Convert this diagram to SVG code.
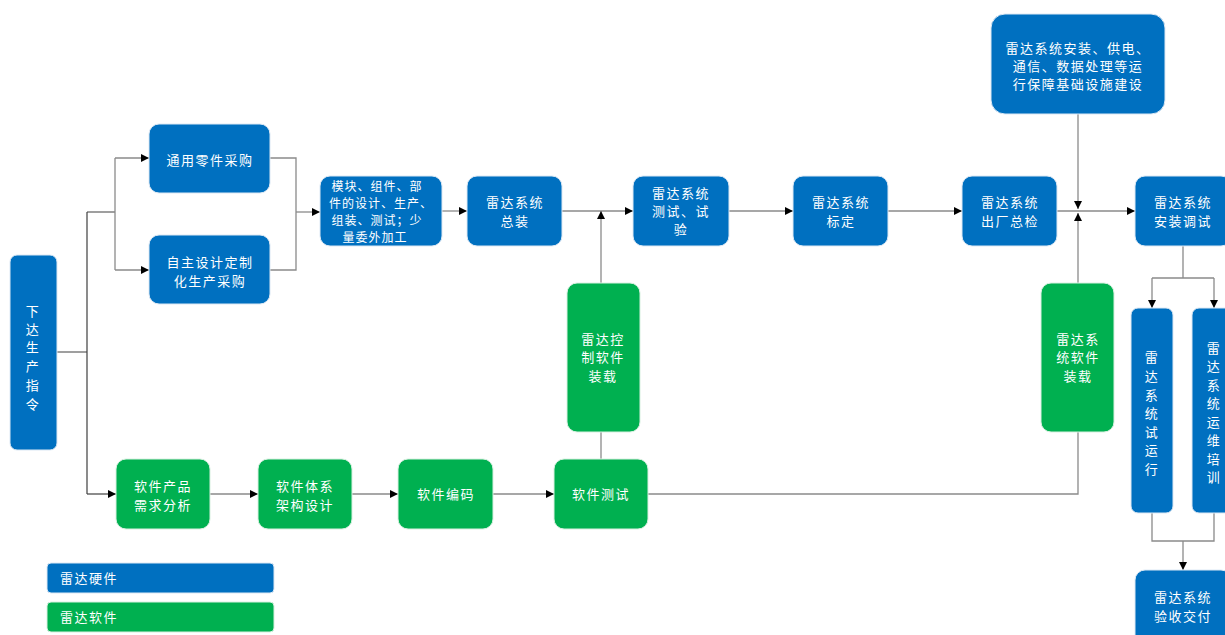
<svg xmlns="http://www.w3.org/2000/svg" width="1225" height="635" viewBox="0 0 1225 635">
<style>
.b{fill:#0070C0;stroke:#dce8f4;stroke-width:1}
.g{fill:#00B050;stroke:#d8f0e0;stroke-width:1}
text{font-family:"Noto Sans CJK SC","Noto Sans",sans-serif;font-size:13px;fill:#fff;text-anchor:middle;letter-spacing:1.5px}
.l{text-anchor:start}
.c{fill:none;stroke:#8a8a8a;stroke-width:1.3}
.d{fill:none;stroke:#404040;stroke-width:1.2}
</style>
<defs>
<marker id="a" viewBox="0 0 10 10" refX="10" refY="5" markerWidth="8" markerHeight="8" markerUnits="userSpaceOnUse" orient="auto"><path d="M0,0 L10,5 L0,10 z" fill="#000"/></marker>
</defs>
<g id="connectors">
<path class="d" d="M57,352 H87 M87,212 V494 M87,212 H115"/>
<path class="c" d="M115,158 V270"/>
<path class="c" d="M115,158 H149" marker-end="url(#a)"/>
<path class="c" d="M115,270 H149" marker-end="url(#a)"/>
<path class="c" d="M270,158 H296 V270 H270"/>
<path class="c" d="M296,212 H320" marker-end="url(#a)"/>
<path class="c" d="M442,211 H467" marker-end="url(#a)"/>
<path class="c" d="M562,211 H633" marker-end="url(#a)"/>
<path class="c" d="M601,283 V211" marker-end="url(#a)"/>
<path class="c" d="M601,432 V459"/>
<path class="c" d="M729,211 H793" marker-end="url(#a)"/>
<path class="c" d="M888,211 H962" marker-end="url(#a)"/>
<path class="c" d="M1057,211 H1135" marker-end="url(#a)"/>
<path class="c" d="M1078,114 V209" marker-end="url(#a)"/>
<path class="c" d="M1078,283 V213" marker-end="url(#a)"/>
<path class="c" d="M648,494 H1078 V432"/>
<path class="d" d="M87,494 H116" marker-end="url(#a)"/>
<path class="c" d="M210,494 H258" marker-end="url(#a)"/>
<path class="c" d="M352,494 H398" marker-end="url(#a)"/>
<path class="c" d="M493,494 H554" marker-end="url(#a)"/>
<path class="c" d="M1183,246 V278 M1152,278 H1214"/>
<path class="c" d="M1152,278 V308" marker-end="url(#a)"/>
<path class="c" d="M1214,278 V308" marker-end="url(#a)"/>
<path class="c" d="M1152,513 V541 H1214 V513"/>
<path class="c" d="M1183,541 V570" marker-end="url(#a)"/>
</g>
<g id="n_order"><rect class="b" x="10" y="255" width="47" height="195" rx="7"/>
<text x="33" y="316">下</text><text x="33" y="334">达</text><text x="33" y="352">生</text><text x="33" y="371">产</text><text x="33" y="390">指</text><text x="33" y="409">令</text></g>
<g id="n_general"><rect class="b" x="149" y="124" width="121" height="69" rx="10"/><text x="210" y="165">通用零件采购</text></g>
<g id="n_custom"><rect class="b" x="149" y="235" width="121" height="69" rx="10"/><text x="210" y="267">自主设计定制</text><text x="210" y="286">化生产采购</text></g>
<g id="n_module"><rect class="b" x="320" y="176" width="122" height="70" rx="10"/>
<text x="377" y="191" style="font-size:12px;letter-spacing:1px">模块、组件、部</text>
<text x="381" y="208" style="font-size:12px;letter-spacing:1px">件的设计、生产、</text>
<text x="377" y="225" style="font-size:12px;letter-spacing:1px">组装、测试；少</text>
<text x="375" y="242" style="font-size:12px;letter-spacing:1px">量委外加工</text></g>
<g id="n_assembly"><rect class="b" x="467" y="176" width="95" height="70" rx="10"/><text x="515" y="207">雷达系统</text><text x="515" y="226">总装</text></g>
<g id="n_test"><rect class="b" x="633" y="176" width="96" height="70" rx="10"/><text x="681" y="198">雷达系统</text><text x="681" y="216">测试、试</text><text x="681" y="234">验</text></g>
<g id="n_calib"><rect class="b" x="793" y="176" width="95" height="70" rx="10"/><text x="841" y="207">雷达系统</text><text x="841" y="226">标定</text></g>
<g id="n_final"><rect class="b" x="962" y="176" width="95" height="70" rx="10"/><text x="1010" y="207">雷达系统</text><text x="1010" y="226">出厂总检</text></g>
<g id="n_infra"><rect class="b" x="991" y="14" width="174" height="100" rx="14"/><text x="1078" y="53">雷达系统安装、供电、</text><text x="1078" y="71">通信、数据处理等运</text><text x="1078" y="89">行保障基础设施建设</text></g>
<g id="n_install"><rect class="b" x="1135" y="176" width="96" height="70" rx="10"/><text x="1183" y="207">雷达系统</text><text x="1183" y="226">安装调试</text></g>
<g id="n_trial"><rect class="b" x="1131" y="308" width="42" height="205" rx="7"/>
<text x="1152" y="362">雷</text><text x="1152" y="381">达</text><text x="1152" y="400">系</text><text x="1152" y="418">统</text><text x="1152" y="437">试</text><text x="1152" y="455">运</text><text x="1152" y="474">行</text></g>
<g id="n_train"><rect class="b" x="1192" y="308" width="42" height="205" rx="7"/>
<text x="1214" y="353">雷</text><text x="1214" y="371">达</text><text x="1214" y="390">系</text><text x="1214" y="408">统</text><text x="1214" y="427">运</text><text x="1214" y="445">维</text><text x="1214" y="464">培</text><text x="1214" y="482">训</text></g>
<g id="n_accept"><rect class="b" x="1135" y="570" width="96" height="75" rx="10"/><text x="1183" y="602">雷达系统</text><text x="1183" y="621">验收交付</text></g>
<g id="n_ctrlsw"><rect class="g" x="567" y="283" width="73" height="149" rx="10"/><text x="603" y="344">雷达控</text><text x="603" y="362">制软件</text><text x="603" y="381">装载</text></g>
<g id="n_syssw"><rect class="g" x="1041" y="283" width="73" height="149" rx="10"/><text x="1078" y="344">雷达系</text><text x="1078" y="362">统软件</text><text x="1078" y="381">装载</text></g>
<g id="n_req"><rect class="g" x="116" y="459" width="94" height="70" rx="10"/><text x="163" y="491">软件产品</text><text x="163" y="510">需求分析</text></g>
<g id="n_arch"><rect class="g" x="258" y="459" width="94" height="70" rx="10"/><text x="305" y="491">软件体系</text><text x="305" y="510">架构设计</text></g>
<g id="n_code"><rect class="g" x="398" y="459" width="95" height="70" rx="10"/><text x="446" y="499">软件编码</text></g>
<g id="n_swtest"><rect class="g" x="554" y="459" width="94" height="70" rx="10"/><text x="601" y="499">软件测试</text></g>
<g id="legend_hw"><rect class="b" x="47" y="563" width="227" height="30" rx="4"/><text class="l" x="60" y="583">雷达硬件</text></g>
<g id="legend_sw"><rect class="g" x="47" y="602" width="227" height="30" rx="4"/><text class="l" x="60" y="622">雷达软件</text></g>
</svg>
